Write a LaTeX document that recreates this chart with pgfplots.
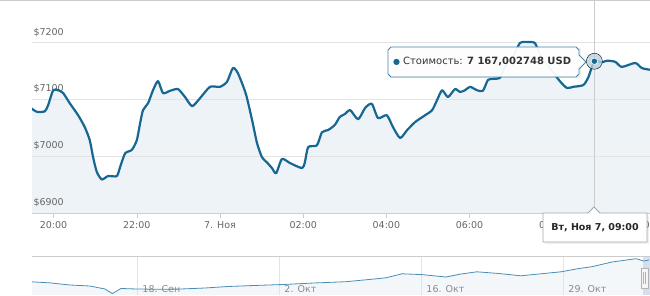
\documentclass[border=0pt]{standalone}
\usepackage{fontspec}
\setmainfont{DejaVu Sans}
\usepackage{pgfplots}
\pgfplotsset{compat=1.18}
\usepackage{pgfplotstable}
\definecolor{series}{HTML}{166791}
\definecolor{fillc}{HTML}{EEF3F8}
\definecolor{gridc}{HTML}{E3E3E3}
\definecolor{axisc}{HTML}{CCCCCC}
\definecolor{labelc}{HTML}{666666}
\definecolor{navlabel}{HTML}{8A8A8A}
\definecolor{navline}{HTML}{4A8DB7}
\definecolor{navfill}{HTML}{F3F7FA}
\definecolor{navsel}{HTML}{C2CEE6}

\pgfplotstableread{
h v
-4.57 7086
-4.40 7078
-4.21 7079
-4.13 7090
-4.01 7116
-3.89 7116
-3.77 7111
-3.61 7093
-3.41 7072
-3.25 7051
-3.13 7028
-3.05 6998
-2.96 6972
-2.84 6959
-2.69 6965
-2.48 6965
-2.40 6981
-2.28 7005
-2.12 7011
-2.00 7028
-1.92 7058
-1.85 7081
-1.73 7093
-1.61 7116
-1.49 7132
-1.37 7111
-1.20 7115
-1.01 7118
-0.84 7104
-0.67 7088
-0.48 7102
-0.24 7122
0.00 7122
0.17 7131
0.31 7155
0.43 7146
0.62 7110
0.77 7064
0.89 7023
1.01 6998
1.13 6989
1.25 6979
1.35 6970
1.49 6995
1.68 6988
1.97 6979
2.04 6989
2.12 7016
2.33 7019
2.45 7042
2.60 7046
2.76 7055
2.88 7069
3.00 7074
3.13 7081
3.32 7065
3.49 7085
3.65 7092
3.80 7067
4.01 7072
4.16 7051
4.33 7032
4.50 7046
4.69 7060
4.93 7072
5.10 7081
5.22 7099
5.34 7116
5.48 7104
5.65 7118
5.77 7113
5.89 7116
6.01 7122
6.18 7116
6.32 7115
6.44 7134
6.56 7136
6.73 7138
6.85 7157
7.04 7175
7.21 7199
7.40 7201
7.57 7199
7.69 7180
7.93 7155
8.17 7132
8.34 7120
8.49 7122
8.73 7125
8.85 7138
9.00 7167
9.18 7165
9.30 7168
9.50 7166
9.66 7157
9.98 7164
10.14 7155
10.34 7152
}\maindata

\pgfplotstableread{
u v
-0.754 4390
-0.613 4250
-0.472 3994
-0.331 3874
-0.225 3514
-0.173 2962
-0.113 3574
0.000 3514
0.162 3478
0.310 3514
0.479 3634
0.641 3814
0.824 3934
1.028 4054
1.246 4234
1.472 4390
1.634 4654
1.754 4858
1.866 5338
2.007 5242
2.176 4954
2.282 5314
2.394 5578
2.549 5374
2.704 5098
2.866 5374
2.986 5578
3.113 5974
3.204 6190
3.345 6754
3.514 7150
3.570 6874
3.606 6994
}\navdata

\pgfplotsset{
  mainframe/.style={
    at={(32pt,82pt)}, anchor=south west,
    scale only axis, width=618pt, height=212pt,
    xmin=-4.519, xmax=10.337, ymin=6900, ymax=7273,
  },
}

\begin{document}
\begin{tikzpicture}[x=1pt,y=1pt]
\useasboundingbox (0,0) rectangle (650,295);
\draw[axisc] (0,294.5) -- (650,294.5);

% area fill under the curve (drawn first, beneath grid and labels)
\begin{axis}[mainframe, axis line style={draw=none}, xtick=\empty, ytick=\empty]
\addplot[draw=none, fill=fillc, smooth, tension=0.4] table[x=h, y=v] {\maindata} \closedcycle;
\end{axis}

\begin{axis}[
  mainframe,
  axis line style={draw=none},
  xtick={-4,-2,0,2,4,6,8,10},
  xticklabels={20:00,22:00,7. Ноя,02:00,04:00,06:00,08:00,10:00},
  ytick={6900,7000,7100,7200},
  yticklabels={\$6900,\$7000,\$7100,\$7200},
  xtick pos=lower,
  major tick length=5pt,
  xtick style={draw=axisc, yshift=-5pt},
  ytick style={draw=none},
  ymajorgrids, grid style={draw=gridc},
  tick label style={font=\fontsize{9.5}{11}\selectfont, text=labelc},
  xticklabel style={yshift=-5pt},
  yticklabel style={anchor=south west, xshift=-2pt, yshift=2.5pt},
  clip=true,
  extra description/.code={
    \draw[axisc] (rel axis cs:0,0) -- (rel axis cs:1,0);
  },
]
\draw[axisc, line width=0.8pt] (axis cs:9,6880) -- (axis cs:9,7280);
\addplot[series, line width=2.2pt, smooth, tension=0.4, line join=round] table[x=h, y=v] {\maindata};
\addplot[only marks, mark=*, mark size=8pt, mark options={fill=series!30, draw=none, fill opacity=0.8}] coordinates {(9,7167.0)};
\addplot[only marks, mark=*, mark size=3.2pt, mark options={fill=series, draw=white, line width=0.6pt}] coordinates {(9,7167.0)};
\end{axis}

% navigator fill (beneath grid)
\begin{axis}[
  at={(32pt,0pt)}, anchor=south west,
  scale only axis, width=618pt, height=39pt,
  xmin=-0.739, xmax=3.613, ymin=2794, ymax=7474,
  axis line style={draw=none}, xtick=\empty, ytick=\empty,
]
\addplot[draw=none, fill=navfill] table[x=u, y=v] {\navdata} \closedcycle;
\end{axis}

\begin{axis}[
  at={(32pt,0pt)}, anchor=south west,
  scale only axis, width=618pt, height=39pt,
  xmin=-0.739, xmax=3.613, ymin=2794, ymax=7474,
  axis line style={draw=none},
  ytick=\empty,
  xtick={0,1,2,3},
  xticklabels={18. Сен,2. Окт,16. Окт,29. Окт},
  xtick style={draw=none},
  xmajorgrids, grid style={draw=gridc},
  tick label style={font=\fontsize{9.5}{11}\selectfont, text=navlabel},
  xticklabel style={anchor=south west, xshift=2pt, yshift=-1pt},
  extra description/.code={
    \draw[axisc] (rel axis cs:0,1) -- (rel axis cs:1,1);
  },
]
\fill[navsel, opacity=0.6] (axis cs:3.563,2794) rectangle (axis cs:3.613,7474);
\addplot[navline, line width=0.8pt] table[x=u, y=v] {\navdata};
\end{axis}

% navigator handle
\filldraw[fill=gray!8, draw=gray!60, line width=0.5pt] (641,7) rectangle (648,27);
\draw[gray!60, line width=0.5pt] (643.5,11) -- (643.5,23) (645.5,11) -- (645.5,23);

% main tooltip
\fill[black, opacity=0.06] (389.5,216.5) rectangle (580.5,246.5);
\draw[series!80, line width=0.8pt, fill=white, fill opacity=0.95]
  (391,248) -- (576,248) -- (579,245) -- (579,240) -- (586,233) -- (579,226) -- (579,221) -- (576,218) -- (391,218) -- (388,221) -- (388,245) -- cycle;
\node[anchor=west, inner sep=0pt, font=\fontsize{10}{12}\selectfont, text=black!80] at (393,233.5)
  {\textcolor{series}{\fontsize{8}{9}\selectfont ●}\hspace{3pt}Стоимость: \textbf{7 167,002748 USD}};

% bottom tooltip
\fill[black, opacity=0.06] (544.5,51.5) rectangle (648.5,80.5);
\draw[gray!70, line width=0.8pt, fill=white]
  (543,82) -- (588,82) -- (594,88) -- (600,82) -- (647,82) -- (647,53) -- (543,53) -- cycle;
\node[anchor=center, inner sep=0pt, font=\fontsize{9.5}{11}\selectfont\bfseries, text=black!85] at (595,67.5)
  {Вт, Ноя 7, 09:00};
\end{tikzpicture}
\end{document}
